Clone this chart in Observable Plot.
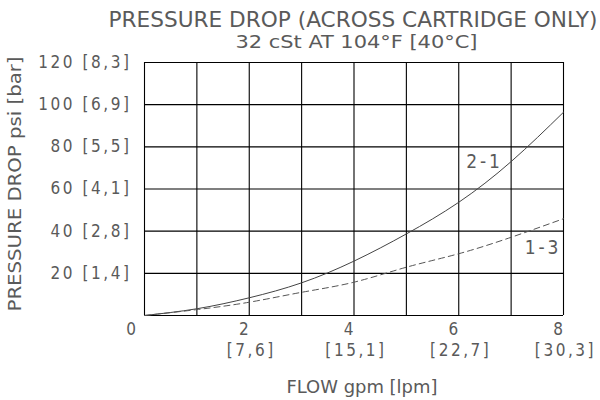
<!DOCTYPE html>
<html>
<head>
<meta charset="utf-8">
<script src="https://cdn.jsdelivr.net/npm/d3@7"></script>
<script src="https://cdn.jsdelivr.net/npm/@observablehq/plot@0.6"></script>
<style>
  html, body { margin: 0; padding: 0; background: #fff; }
  #chart { width: 600px; height: 400px; }
</style>
</head>
<body>
<div id="chart"></div>
<script>
// Flow (gpm) sample points
const flow = [0, 1, 2, 3, 4, 5, 6, 7, 8];
// Pressure drop (psi) for each path
const drop21 = [0, 3.2, 8.4, 15.5, 25.8, 38.7, 53.7, 73, 96.4];
const drop13 = [0, 2.8, 6.3, 11, 15.8, 22.9, 29.3, 37.1, 45.9];

// Axis ticks and labels
const yTicks = [20, 40, 60, 80, 100, 120];
const yBar = ["[1,4]", "[2,8]", "[4,1]", "[5,5]", "[6,9]", "[8,3]"];
const xTicks = [2, 4, 6, 8];
const xLpm = ["[7,6]", "[15,1]", "[22,7]", "[30,3]"];
const xGrid = [0, 1, 2, 3, 4, 5, 6, 7, 8];
const yGrid = [0, 20, 40, 60, 80, 100, 120];

const title = "PRESSURE DROP (ACROSS CARTRIDGE ONLY)";
const subtitle = "32 cSt AT 104°F [40°C]";
const yLabel = "PRESSURE DROP psi [bar]";
const xLabel = "FLOW gpm [lpm]";
const seriesLabels = [
  {name: "2-1", x: 6.49, y: 73},
  {name: "1-3", x: 7.61, y: 32}
];

const s21 = flow.map((f, i) => ({flow: f, psi: drop21[i]}));
const s13 = flow.map((f, i) => ({flow: f, psi: drop13[i]}));
const yTickData = yTicks.map((v, i) => ({v, label: `${v} ${yBar[i]}`}));
const xTickData = xTicks.map((v, i) => ({v, lpm: xLpm[i]}));

const txt = "#5a5a5a";
const chart = Plot.plot({
  width: 600,
  height: 400,
  marginLeft: 144,
  marginRight: 37,
  marginTop: 62,
  marginBottom: 85,
  x: {domain: [0, 8], axis: null},
  y: {domain: [0, 120], axis: null},
  style: {fontFamily: "'DejaVu Sans Condensed', 'DejaVu Sans', sans-serif", background: "#fff"},
  marks: [
    Plot.ruleX(xGrid, {stroke: "#000", strokeWidth: 1.1}),
    Plot.ruleY(yGrid, {stroke: "#000", strokeWidth: 1.1}),
    Plot.line(s21, {x: "flow", y: "psi", curve: "natural", stroke: "#444", strokeWidth: 1}),
    Plot.line(s13, {x: "flow", y: "psi", curve: "natural", stroke: "#555", strokeWidth: 1, strokeDasharray: "6,4"}),
    Plot.text(seriesLabels, {x: "x", y: "y", text: "name", fill: txt, fontSize: 19, textAnchor: "middle", lineAnchor: "middle"}),
    Plot.text(yTickData, {x: () => 0, y: "v", text: "label", fill: txt, fontSize: 17, textAnchor: "end", dx: -13, lineAnchor: "middle"}),
    Plot.text([0], {x: () => 0, y: () => 0, text: () => "0", fill: txt, fontSize: 17, dx: -12, dy: 14, lineAnchor: "middle"}),
    Plot.text(xTickData, {x: "v", y: () => 0, text: (d) => String(d.v), fill: txt, fontSize: 17, dx: -4, dy: 14, lineAnchor: "middle"}),
    Plot.text(xTickData, {x: "v", y: () => 0, text: "lpm", fill: txt, fontSize: 17, dx: 2, dy: 35, lineAnchor: "middle"}),
    Plot.text([xLabel], {frameAnchor: "bottom", text: (d) => d, fill: txt, fontSize: 17, dx: 8, dy: 77, lineAnchor: "bottom"}),
    Plot.text([yLabel], {frameAnchor: "left", text: (d) => d, fill: txt, fontSize: 17, rotate: -90, textAnchor: "middle", dx: -129, dy: -5, lineAnchor: "middle"}),
    Plot.text([title], {frameAnchor: "top-left", text: (d) => d, fill: txt, fontSize: 21, textAnchor: "start", dx: -36, dy: -36, lineAnchor: "bottom"}),
    Plot.text([subtitle], {frameAnchor: "top-left", text: (d) => d, fill: txt, fontSize: 18, textAnchor: "start", dx: 91, dy: -15, lineAnchor: "bottom"})
  ]
});
document.getElementById("chart").appendChild(chart);

// stretch long labels to the measured widths of the reference
const fit = {[title]: 489, [subtitle]: 242, [yLabel]: 255, [xLabel]: 151};
d3.select(chart).selectAll("text").each(function() {
  const t = this.textContent;
  if (fit[t]) {
    this.setAttribute("textLength", fit[t]);
    this.setAttribute("lengthAdjust", "spacingAndGlyphs");
  } else {
    this.setAttribute("letter-spacing", "0.15em");
  }
});
</script>
</body>
</html>
